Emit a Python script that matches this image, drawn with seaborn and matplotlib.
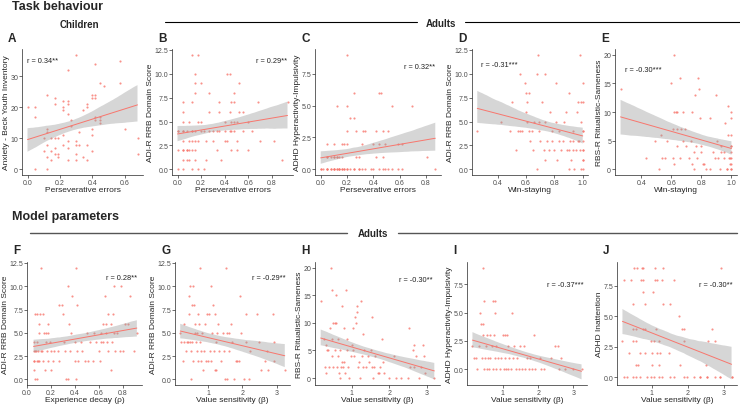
import numpy as np
import matplotlib
matplotlib.use("Agg")
import matplotlib.pyplot as plt
import seaborn as sns
from matplotlib.collections import PolyCollection
from matplotlib.lines import Line2D

# ----------------------
# Style
# ----------------------
sns.set_style("ticks")
plt.rcParams["font.family"] = ["Liberation Sans", "DejaVu Sans"]
plt.rcParams["axes.linewidth"] = 0.5

POINT = "#F8766D"
TICK_GREY = "#4D4D4D"

# ----------------------
# Data (integer scores overlap a lot, so some
# stacked points are counted more than once)
# ----------------------
# A: children, perseverative errors vs anxiety
a_x = [0, 0.045, 0.045, 0.045, 0.10, 0.10, 0.12, 0.12, 0.12, 0.12, 0.12, 0.12, 0.145, 0.145, 0.145,
       0.17, 0.17, 0.17, 0.17, 0.17, 0.19, 0.19, 0.19, 0.22, 0.22, 0.22, 0.22, 0.22,
       0.25, 0.25, 0.25, 0.25, 0.25, 0.25, 0.25, 0.27, 0.27, 0.30, 0.30, 0.30, 0.30, 0.30,
       0.32, 0.32, 0.345, 0.345, 0.37, 0.37, 0.37, 0.37, 0.40, 0.40, 0.40, 0.40, 0.40,
       0.42, 0.42, 0.42, 0.42, 0.42, 0.45, 0.45, 0.45, 0.45, 0.47, 0.57, 0.57, 0.60, 0.68, 0.68]
a_y = [20, 20, 17, 0, 10, 6, 24, 13, 12, 8, 4, 0, 10, 6, 3,
       23, 21, 10, 7, 5, 10, 5, 4, 22, 20, 19, 11, 8,
       22, 21, 18, 32, 9, 7, 3, 16, 14, 37, 9, 8, 5, 3,
       12, 8, 19, 4, 20, 21, 8, 3, 24, 23, 13, 11, 6,
       34, 24, 23, 17, 16, 28, 17, 16, 15, 27, 35, 28, 13, 10, 5]

# B: adults, perseverative errors vs ADI-R RRB
b_x = [0.0, 0.0, 0.0, 0.05, 0.05, 0.05, 0.05, 0.05, 0.05, 0.05, 0.05, 0.08, 0.08, 0.08,
       0.10, 0.10, 0.10, 0.12, 0.12, 0.12, 0.12, 0.12, 0.12, 0.15, 0.15, 0.15, 0.15, 0.15, 0.15, 0.15,
       0.17, 0.17, 0.17, 0.17, 0.20, 0.20, 0.20, 0.22, 0.22, 0.24, 0.24, 0.27, 0.27, 0.27,
       0.30, 0.30, 0.33, 0.33, 0.35, 0.35, 0.35, 0.37, 0.40, 0.40, 0.40, 0.42, 0.42,
       0.44, 0.44, 0.44, 0.45, 0.45, 0.45, 0.45, 0.48, 0.48, 0.48, 0.48, 0.50, 0.50, 0.50,
       0.52, 0.52, 0.55, 0.55, 0.60, 0.60, 0.63, 0.68, 0.70, 0.82, 0.88, 0.93,
       0.0, 0.05, 0.05, 0.08, 0.10, 0.12]
b_y = [4, 2, 0, 7, 6, 5, 4, 3, 2, 1, 0, 4, 2, 1,
       5, 2, 1, 12, 7, 4, 3, 2, 0, 10, 9, 8, 4, 3, 2, 1,
       12, 5, 3, 0, 9, 5, 4, 4, 0, 3, 1, 8, 6, 4,
       4, 3, 4, 2, 7, 6, 4, 1, 5, 4, 3, 10, 3,
       10, 6, 4, 7, 5, 4, 2, 8, 7, 5, 4, 5, 3, 2,
       9, 6, 6, 4, 5, 2, 4, 7, 3, 3, 1, 7,
       4, 4, 2, 2, 3, 4]

# C: adults, perseverative errors vs ADHD hyperactivity-impulsivity
c_x = [0.0, 0.05, 0.08, 0.10, 0.12, 0.14, 0.16, 0.18, 0.20, 0.225, 0.25, 0.29, 0.31, 0.34, 0.38,
       0.40, 0.44, 0.47, 0.49, 0.51, 0.54, 0.59, 0.62, 0.87,
       0.0, 0.02, 0.05, 0.08, 0.10, 0.12, 0.14, 0.16, 0.18, 0.20, 0.25, 0.29, 0.05, 0.10, 0.14,
       0.05, 0.08, 0.10, 0.12, 0.14, 0.16, 0.27, 0.29, 0.42, 0.47, 0.81, 0.05, 0.10, 0.12,
       0.05, 0.10, 0.16, 0.18, 0.20, 0.31, 0.40, 0.44, 0.49, 0.59, 0.62,
       0.20, 0.27, 0.32, 0.34, 0.42, 0.47, 0.51,
       0.22, 0.25, 0.12, 0.20, 0.54, 0.69, 0.25, 0.44, 0.46, 0.20]
c_y = [0] * 39 + [1] * 14 + [2] * 11 + [3] * 7 + [4, 4, 5, 5, 5, 5, 6, 6, 6, 9]

# D: adults, win-staying vs ADI-R RRB
d_x = [0.256, 0.42, 0.49, 0.50, 0.53, 0.54, 0.56, 0.56, 0.57, 0.59, 0.60, 0.60, 0.61, 0.62, 0.61,
       0.62, 0.63, 0.645, 0.65, 0.655, 0.675, 0.68, 0.685, 0.69, 0.695, 0.70, 0.71, 0.725, 0.735,
       0.735, 0.735, 0.75, 0.76, 0.77, 0.78, 0.78, 0.80, 0.81, 0.81, 0.82, 0.83, 0.83, 0.85, 0.86,
       0.865, 0.88, 0.89, 0.90, 0.90, 0.91, 0.92, 0.93, 0.93, 0.94, 0.96, 0.97, 0.975, 0.98, 0.99,
       0.99, 0.99, 1.0, 1.0, 1.0, 1.0, 1.0,
       1.0, 1.0, 1.0, 1.0, 1.0, 0.98, 0.97, 0.95, 0.93, 0.90]
d_y = [4, 5, 4, 7, 2, 4, 4, 10, 4, 9, 8, 6, 5, 8, 7,
       4, 3, 4, 2, 5, 10, 0, 12, 4, 5, 3, 7, 2, 10,
       5, 1, 3, 2, 6, 3, 4, 2, 9, 5, 1, 3, 4, 2, 3,
       5, 6, 2, 8, 0, 3, 1, 4, 2, 0, 6, 7, 3, 12, 7,
       5, 0, 4, 2, 1, 7, 9,
       3, 2, 4, 1, 0, 2, 3, 2, 3, 2]

# E: adults, win-staying vs RBS-R ritualistic-sameness
e_x = [0.263, 0.43, 0.49, 0.52, 0.53, 0.54, 0.56, 0.57, 0.60, 0.61, 0.61, 0.62, 0.62, 0.62, 0.63,
       0.635, 0.64, 0.64, 0.655, 0.66, 0.665, 0.675, 0.68, 0.69, 0.70, 0.715, 0.73, 0.74, 0.74,
       0.75, 0.75, 0.76, 0.765, 0.77, 0.78, 0.785, 0.79, 0.80, 0.80, 0.81, 0.82, 0.83, 0.855,
       0.86, 0.875, 0.89, 0.90, 0.905, 0.91, 0.925, 0.93, 0.95, 0.96, 0.97, 0.975, 0.98, 0.985,
       0.99, 0.995, 0.995, 1.0, 1.0, 1.0, 1.0,
       1.0, 1.0, 1.0, 1.0, 0.99, 0.97, 0.95, 0.93]
e_y = [14, 2, 5, 0, 6, 2, 2, 5, 15, 7, 2, 20, 1, 10, 10,
       4, 10, 7, 2, 16, 7, 10, 5, 7, 4, 2, 5, 10, 1,
       3, 0, 13, 4, 2, 16, 14, 9, 3, 4, 1, 1, 0, 9,
       0, 3, 2, 13, 5, 2, 0, 4, 3, 8, 0, 6, 11, 2,
       1, 4, 9, 0, 2, 6, 10,
       0, 1, 3, 4, 2, 0, 2, 3]

# F: adults, experience decay vs ADI-R RRB
f_x = [0.055, 0.055, 0.055, 0.065, 0.07, 0.074, 0.08, 0.08, 0.085, 0.094, 0.10, 0.10, 0.11, 0.12,
       0.124, 0.13, 0.14, 0.13, 0.147, 0.16, 0.16, 0.17, 0.174, 0.18, 0.18, 0.19, 0.20, 0.20,
       0.22, 0.23, 0.256, 0.265, 0.27, 0.294, 0.30, 0.306, 0.315, 0.33, 0.34, 0.345, 0.35, 0.36,
       0.37, 0.38, 0.40, 0.40, 0.41, 0.41, 0.42, 0.42, 0.43, 0.45, 0.46, 0.485, 0.50, 0.515,
       0.53, 0.55, 0.565, 0.58, 0.60, 0.615, 0.62, 0.64, 0.64, 0.65, 0.66, 0.67, 0.68, 0.68,
       0.70, 0.71, 0.72, 0.73, 0.73, 0.74, 0.78, 0.79, 0.80, 0.82, 0.86, 0.90, 0.92,
       0.055, 0.06, 0.07, 0.08, 0.09, 0.10, 0.12, 0.62, 0.66, 0.70, 0.75, 0.85]
f_y = [4, 2, 1, 7, 0, 3, 4, 0, 7, 2, 5, 6, 7, 12,
       3, 2, 5, 7, 1, 4, 5, 3, 2, 6, 5, 4, 1, 3,
       2, 3, 3, 8, 2, 8, 7, 4, 3, 0, 10, 0, 6, 3,
       5, 9, 4, 2, 12, 0, 8, 3, 2, 4, 3, 2, 5, 2,
       4, 2, 5, 4, 3, 2, 4, 6, 4, 9, 6, 4, 7, 3,
       1, 4, 7, 10, 5, 3, 3, 10, 3, 6, 9, 3, 5,
       3, 2, 3, 2, 3, 2, 3, 5, 5, 6, 5, 6]

# G: adults, value sensitivity vs ADI-R RRB
g_x = [0.19, 0.22, 0.26, 0.29, 0.31, 0.36, 0.40, 0.43, 0.46, 0.46, 0.48, 0.48, 0.50, 0.50, 0.52,
       0.54, 0.55, 0.57, 0.59, 0.62, 0.62, 0.64, 0.67, 0.67, 0.70, 0.71, 0.74, 0.76, 0.78, 0.79,
       0.81, 0.83, 0.86, 0.88, 0.90, 0.93, 0.97, 1.00, 1.03, 1.05, 1.08, 1.10, 1.11, 1.14, 1.17,
       1.19, 1.21, 1.22, 1.24, 1.26, 1.29, 1.31, 1.38, 1.43, 1.48, 1.50, 1.52, 1.54, 1.55, 1.60,
       1.62, 1.67, 1.71, 1.76, 1.81, 1.86, 1.90, 1.93, 1.95, 2.05, 2.10, 2.12, 2.19, 2.24, 2.43,
       2.48, 2.55, 2.67, 2.71, 2.76, 2.90, 2.93, 2.93, 3.24]
g_y = [5, 4, 2, 6, 4, 3, 4, 4, 9, 7, 10, 4, 3, 0, 4,
       8, 2, 10, 8, 5, 6, 4, 3, 5, 7, 2, 6, 12, 4, 3,
       2, 5, 1, 3, 6, 2, 7, 2, 7, 3, 2, 10, 5, 8, 3,
       1, 7, 4, 1, 5, 6, 3, 2, 5, 3, 0, 12, 5, 0, 3,
       5, 6, 4, 0, 2, 2, 2, 9, 5, 0, 7, 4, 0, 3, 7,
       4, 1, 2, 3, 1, 7, 2, 4, 1]

# H: adults, value sensitivity vs RBS-R ritualistic-sameness
h_x = [0.17, 0.26, 0.28, 0.30, 0.32, 0.33, 0.37, 0.39, 0.42, 0.44, 0.46, 0.46, 0.48, 0.50, 0.51,
       0.54, 0.55, 0.57, 0.59, 0.60, 0.62, 0.64, 0.66, 0.68, 0.69, 0.70, 0.73, 0.75, 0.77, 0.78,
       0.79, 0.81, 0.84, 0.86, 0.88, 0.91, 0.93, 0.97, 1.00, 1.02, 1.04, 1.06, 1.08, 1.11, 1.13,
       1.15, 1.17, 1.20, 1.21, 1.24, 1.27, 1.29, 1.31, 1.33, 1.375, 1.42, 1.46, 1.51, 1.53, 1.55,
       1.57, 1.60, 1.62, 1.69, 1.73, 1.76, 1.80, 1.82, 1.87, 2.00, 2.12, 2.18, 2.31, 2.49, 2.52,
       2.54, 2.63, 2.65, 2.67, 2.71, 2.79, 2.85, 2.89, 2.92, 2.96, 3.20]
h_y = [14, 7, 2, 6, 1, 5, 5, 2, 9, 20, 7, 4, 16, 2, 10,
       10, 5, 10, 15, 2, 4, 7, 1, 0, 5, 2, 3, 13, 2, 3,
       9, 1, 16, 5, 7, 2, 0, 4, 6, 5, 9, 4, 11, 10, 12,
       13, 2, 3, 0, 14, 4, 2, 8, 5, 2, 4, 3, 5, 11, 2,
       0, 2, 4, 1, 1, 2, 7, 3, 1, 0, 4, 0, 0, 0, 9,
       2, 5, 6, 2, 4, 0, 2, 6, 4, 1, 0]

# I: adults, value sensitivity vs ADHD hyperactivity-impulsivity
i_x = [0.14, 0.18, 0.25, 0.27, 0.32, 0.36, 0.39, 0.41, 0.44, 0.45, 0.45, 0.47, 0.48, 0.50, 0.53,
       0.55, 0.56, 0.59, 0.62, 0.64, 0.65, 0.68, 0.71, 0.73, 0.75, 0.77, 0.77, 0.79, 0.80, 0.82,
       0.86, 0.91, 0.95, 1.00, 1.03, 1.05, 1.07, 1.09, 1.11, 1.14, 1.16, 1.18, 1.23, 1.27, 1.29,
       1.32, 1.36, 1.41, 1.45, 1.50, 1.55, 1.59, 1.64, 1.68, 1.73, 1.77, 1.82, 1.89, 1.91, 2.05,
       2.09, 2.18, 2.36, 2.48, 2.55, 2.59, 2.65, 2.77, 3.00, 3.23]
i_y = [2, 1, 1, 0, 2, 5, 4, 1, 3, 9, 4, 0, 6, 1, 2,
       0, 3, 1, 0, 3, 1, 2, 0, 6, 3, 1, 6, 5, 2, 0,
       1, 0, 1, 3, 0, 3, 1, 0, 3, 2, 0, 1, 0, 5, 1,
       2, 0, 1, 0, 2, 0, 2, 0, 1, 0, 1, 0, 3, 0, 1,
       0, 0, 1, 2, 2, 0, 1, 0, 0, 0]

# J: adults, value sensitivity vs ADHD inattention
j_x = [0.51, 0.60, 0.72, 0.76, 1.09, 1.31, 2.93,
       0.24, 0.42, 0.70, 0.76, 1.09, 1.16, 1.29, 1.61,
       0.76, 1.04,
       0.47, 0.83, 1.31, 1.52,
       1.75,
       0.47, 0.56, 0.76, 0.83, 1.11, 1.84, 1.89, 2.67,
       0.19, 0.47, 0.56, 0.97, 1.06, 1.20, 1.89, 2.56, 2.76,
       0.38, 0.67, 0.83, 1.00, 1.16, 1.22, 1.48,
       0.56, 0.63, 1.00, 1.20, 1.80, 2.50,
       0.24, 0.33, 0.47, 0.56, 0.67, 0.88, 0.97, 1.06, 1.20, 1.29, 1.52, 1.61, 1.89, 1.98,
       2.17, 2.35, 2.53, 2.76, 2.90, 3.22, 2.35, 2.53, 2.90, 3.22]
j_y = [9] * 7 + [8] * 8 + [7] * 2 + [6] * 4 + [5] + [4] * 8 + [3] * 9 + [2] * 7 + [1] * 6 + [0] * 24

# axis ticks as printed
pers_ticks = [0.0, 0.2, 0.4, 0.6, 0.8]
pers_labels = ["0.0", "0.2", "0.4", "0.6", "0.8"]
win_ticks = [0.4, 0.6, 0.8, 1.0]
win_labels = ["0.4", "0.6", "0.8", "1.0"]
beta_ticks = [1, 2, 3]
beta_labels = ["1", "2", "3"]
rrb_ticks = [0.0, 2.5, 5.0, 7.5, 10.0, 12.5]
rrb_labels = ["0.0", "2.5", "5.0", "7.5", "10.0", "12.5"]
adhd_ticks = [0.0, 2.5, 5.0, 7.5]
adhd_labels = ["0.0", "2.5", "5.0", "7.5"]
rbs_ticks = [0, 5, 10, 15, 20]
rbs_labels = ["0", "5", "10", "15", "20"]
anx_ticks = [0, 10, 20, 30]
anx_labels = ["0", "10", "20", "30"]

# panel specs: letter, x, y, xlabel, ylabel, r text, xticks, yticks, pixel box, r position
panels = [
    ("A", a_x, a_y, "Perseverative errors", "Anxiety - Beck Youth Inventory", "r = 0.34**",
     (pers_ticks[:4], pers_labels[:4]), (anx_ticks, anx_labels), (22, 143, 50, 176), (0.04, 0.905, "left")),
    ("B", b_x, b_y, "Perseverative errors", "ADI-R RRB Domain Score", "r = 0.29**",
     (pers_ticks, pers_labels), (rrb_ticks, rrb_labels), (172, 293, 50, 176), (0.95, 0.905, "right")),
    ("C", c_x, c_y, "Perseverative errors", "ADHD Hyperactivity-Impulsivity", "r = 0.32**",
     (pers_ticks, pers_labels), (adhd_ticks, adhd_labels), (315, 441, 50, 176), (0.95, 0.865, "right")),
    ("D", d_x, d_y, "Win-staying", "ADI-R RRB Domain Score", "r = -0.31***",
     (win_ticks, win_labels), (rrb_ticks, rrb_labels), (472, 588, 50, 176), (0.08, 0.88, "left")),
    ("E", e_x, e_y, "Win-staying", "RBS-R Ritualistic-Sameness", "r = -0.30***",
     (win_ticks, win_labels), (rbs_ticks, rbs_labels), (615, 737, 50, 176), (0.08, 0.84, "left")),
    ("F", f_x, f_y, "Experience decay (ρ)", "ADI-R RRB Domain Score", "r = 0.28**",
     (pers_ticks, pers_labels), (rrb_ticks, rrb_labels), (27, 142, 263, 386), (0.96, 0.87, "right")),
    ("G", g_x, g_y, "Value sensitivity (β)", "ADI-R RRB Domain Score", "r = -0.29**",
     (beta_ticks, beta_labels), (rrb_ticks, rrb_labels), (175, 290, 263, 386), (0.96, 0.87, "right")),
    ("H", h_x, h_y, "Value sensitivity (β)", "RBS-R Ritualistic-Sameness", "r = -0.30**",
     (beta_ticks, beta_labels), (rbs_ticks, rbs_labels), (315, 440, 263, 386), (0.94, 0.86, "right")),
    ("I", i_x, i_y, "Value sensitivity (β)", "ADHD Hyperactivity-Impulsivity", "r = -0.37***",
     (beta_ticks, beta_labels), (adhd_ticks, adhd_labels), (467, 587, 263, 386), (0.97, 0.82, "right")),
    ("J", j_x, j_y, "Value sensitivity (β)", "ADHD Inattention", "r = -0.30**",
     (beta_ticks, beta_labels), (adhd_ticks, adhd_labels), (617, 737, 263, 386), (0.96, 0.82, "right")),
]

W, H = 740, 406
fig = plt.figure(figsize=(W / 100, H / 100), dpi=100)

for letter, xs, ys, xlab, ylab, rtxt, xt, yt, box, rpos in panels:
    left, right, top, bottom = box
    ax = fig.add_axes([left / W, 1 - bottom / H, (right - left) / W, (bottom - top) / H])
    sns.regplot(x=np.array(xs), y=np.array(ys), ax=ax, seed=7, ci=90,
                scatter_kws=dict(s=2.4, color=POINT, linewidths=0, zorder=2),
                line_kws=dict(color=POINT, lw=0.7, zorder=4))
    # ggplot-like grey ribbon on top of the points
    for coll in ax.collections:
        if isinstance(coll, PolyCollection):
            coll.set_facecolor("#999999")
            coll.set_alpha(0.4)
            coll.set_edgecolor("none")
            coll.set_zorder(3)
    ax.set_xticks(xt[0], xt[1])
    ax.set_yticks(yt[0], yt[1])
    ax.tick_params(labelsize=5, colors=TICK_GREY, length=2, width=0.5, pad=0.8)
    ax.tick_params(axis="both", which="both", color="#333333")
    ax.set_xlabel(xlab, fontsize=6, labelpad=0)
    ax.set_ylabel(ylab, fontsize=6, labelpad=0.5)
    sns.despine(ax=ax)
    ax.text(rpos[0], rpos[1], rtxt, transform=ax.transAxes, ha=rpos[2], va="center",
            fontsize=5.3, color="#222222")
    fig.text((left - 14) / W, 1 - (top - 11.5) / H, letter, fontsize=8.5,
             fontweight="bold", ha="left", va="center")

# ----------------------
# Section headers
# ----------------------
fig.text(12 / W, 1 - 9.5 / H, "Task behaviour", fontsize=9, fontweight="bold", va="baseline")
fig.text(79 / W, 1 - 24.5 / H, "Children", fontsize=7, fontweight="bold", va="center", ha="center")
fig.text(441 / W, 1 - 24 / H, "Adults", fontsize=7, fontweight="bold", va="center", ha="center")
fig.add_artist(Line2D([165 / W, 417 / W], [1 - 23 / H] * 2, color="black", lw=0.8))
fig.add_artist(Line2D([465 / W, 740 / W], [1 - 23 / H] * 2, color="black", lw=0.8))

fig.text(12 / W, 1 - 217 / H, "Model parameters", fontsize=9, fontweight="bold", va="center")
fig.text(373 / W, 1 - 234 / H, "Adults", fontsize=7, fontweight="bold", va="center", ha="center")
fig.add_artist(Line2D([30 / W, 347 / W], [1 - 233.5 / H] * 2, color="#555555", lw=1.0))
fig.add_artist(Line2D([398 / W, 737 / W], [1 - 233.5 / H] * 2, color="#555555", lw=1.0))

fig.savefig("out.png", dpi=100)
